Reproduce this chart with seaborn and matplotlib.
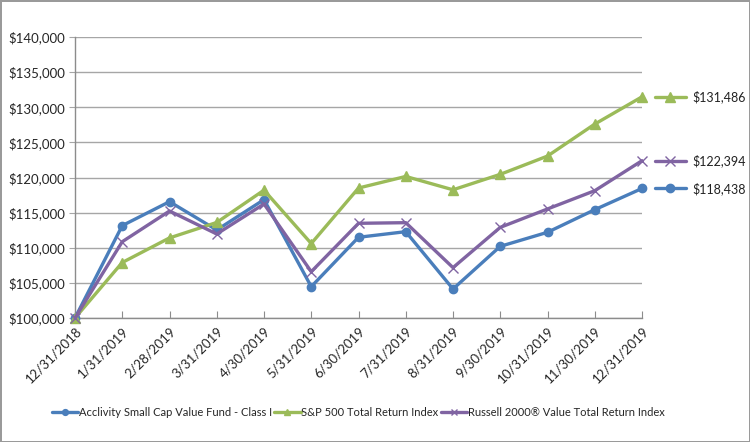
import matplotlib
matplotlib.use("Agg")
import matplotlib.pyplot as plt
import matplotlib.ticker as mticker
import numpy as np
import pandas as pd
import seaborn as sns

# ── Data ───────────────────────────────────────────────────────────────────
dates = ["12/31/2018", "1/31/2019", "2/28/2019", "3/31/2019", "4/30/2019",
         "5/31/2019", "6/30/2019", "7/31/2019", "8/31/2019", "9/30/2019",
         "10/31/2019", "11/30/2019", "12/31/2019"]

fund = [100000, 113150, 116560, 112530, 116850, 104460, 111490,
        112290, 104130, 110200, 112200, 115420, 118438]
sp500 = [100000, 107900, 111400, 113600, 118200, 110600, 118500,
         120150, 118250, 120450, 123050, 127600, 131486]
russell = [100000, 110860, 115230, 111960, 116230, 106590, 113480,
           113570, 107170, 112900, 115520, 118120, 122394]

series_names = ["Acclivity Small Cap Value Fund - Class I",
                "S&P 500 Total Return Index",
                "Russell 2000® Value Total Return Index"]
series_values = [fund, sp500, russell]

# ── Style ──────────────────────────────────────────────────────────────────
sns.set_style("white")
plt.rcParams["font.family"] = ["Lato", "DejaVu Sans"]
COLORS = ["#4A7EBB", "#9BBB59", "#8064A2"]
MARKERS = ["o", "^", "x"]
MSIZE = [6, 7, 7]

fig = plt.figure(figsize=(7.5, 4.42), dpi=100)
fig.patch.set_edgecolor("#9a9a9a")
fig.patch.set_linewidth(2)
ax = fig.add_axes([75 / 750, 1 - 318 / 442, (642 - 75) / 750, (318 - 37) / 442])

x = np.arange(len(dates))
for name, vals, c, m, ms in zip(series_names, series_values, COLORS, MARKERS, MSIZE):
    df = pd.DataFrame({"x": x, "y": vals})
    sns.lineplot(data=df, x="x", y="y", ax=ax, color=c, lw=2.4, marker=m,
                 markersize=ms, markeredgecolor=c, markeredgewidth=1,
                 label=name, clip_on=False, zorder=3)

    # end label: short line with marker + value text
    ax.plot([x[-1] + 0.28, x[-1] + 0.93], [vals[-1], vals[-1]], color=c, lw=2.4,
            clip_on=False)
    ax.plot([x[-1] + 0.6], [vals[-1]], marker=m, color=c, markersize=ms,
            markeredgewidth=1, clip_on=False)
    ax.text(x[-1] + 1.07, vals[-1], f"${vals[-1]:,.0f}", va="center", ha="left",
            fontsize=9, color="#222222")

ax.set_xlim(0, 12)
ax.set_ylim(100000, 140000)
ax.yaxis.set_major_locator(mticker.MultipleLocator(5000))
ax.yaxis.set_major_formatter(mticker.FuncFormatter(lambda v, _: f"${v:,.0f}"))
ax.set_xticks(x)
ax.set_xticklabels(dates, rotation=45, ha="right", rotation_mode="anchor")
ax.set_xlabel("")
ax.set_ylabel("")

ax.grid(axis="y", color="#a6a6a6", lw=1)
ax.set_axisbelow(True)
for side in ["top", "right"]:
    ax.spines[side].set_visible(False)
for side in ["left", "bottom"]:
    ax.spines[side].set_color("#8c8c8c")
    ax.spines[side].set_linewidth(1)
ax.tick_params(axis="y", length=4, color="#a6a6a6", labelsize=9.5, pad=3, left=True)
ax.tick_params(axis="x", direction="in", length=5, color="#8c8c8c", labelsize=9.5,
               pad=5, bottom=True)

ax.legend(loc="center left", bbox_to_anchor=(46 / 750, 1 - 412 / 442),
          bbox_transform=fig.transFigure, ncol=3, frameon=False, fontsize=8,
          handlelength=2.4, handletextpad=0.05, columnspacing=0.2, borderpad=0,
          markerscale=0.7)

fig.savefig("out.png", dpi=100)
